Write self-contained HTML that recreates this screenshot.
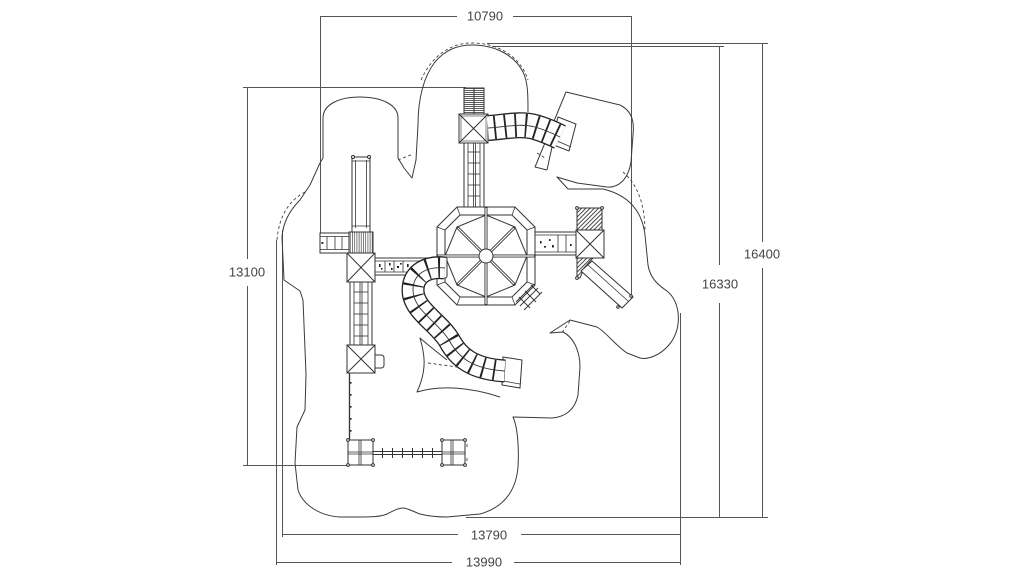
<!DOCTYPE html>
<html>
<head>
<meta charset="utf-8">
<style>
html,body{margin:0;padding:0;background:#fff;}
svg{display:block;}
text{font-family:"Liberation Sans",sans-serif;font-size:13px;fill:#444;}
</style>
</head>
<body>
<svg width="1024" height="576" viewBox="0 0 1024 576" xmlns="http://www.w3.org/2000/svg">
<defs>
  <pattern id="hatch" patternUnits="userSpaceOnUse" width="3" height="3" patternTransform="rotate(45)">
    <line x1="0.5" y1="0" x2="0.5" y2="3" stroke="#333" stroke-width="0.9"/>
  </pattern>
  <pattern id="hl" patternUnits="userSpaceOnUse" width="4" height="2">
    <line x1="0" y1="0.5" x2="4" y2="0.5" stroke="#333" stroke-width="0.8"/>
  </pattern>
  <pattern id="vl" patternUnits="userSpaceOnUse" width="2.2" height="4">
    <line x1="0.5" y1="0" x2="0.5" y2="4" stroke="#444" stroke-width="0.7"/>
  </pattern>
</defs>
<rect width="1024" height="576" fill="#fff"/>

<!-- ============ DIMENSION LINES ============ -->
<g stroke="#555" stroke-width="1" fill="none">
  <line x1="320" y1="16.5" x2="457" y2="16.5"/>
  <line x1="513" y1="16.5" x2="631" y2="16.5"/>
  <line x1="320.5" y1="16" x2="320.5" y2="233"/>
  <line x1="631.5" y1="16" x2="631.5" y2="295"/>
  <line x1="487" y1="43.5" x2="768" y2="43.5"/>
  <line x1="762.5" y1="43" x2="762.5" y2="242"/>
  <line x1="762.5" y1="268" x2="762.5" y2="517"/>
  <line x1="492" y1="46.5" x2="724" y2="46.5"/>
  <line x1="719.5" y1="46" x2="719.5" y2="265"/>
  <line x1="719.5" y1="303" x2="719.5" y2="517"/>
  <line x1="466" y1="517.5" x2="768" y2="517.5"/>
  <line x1="243" y1="87.5" x2="466" y2="87.5"/>
  <line x1="247.5" y1="87" x2="247.5" y2="259"/>
  <line x1="247.5" y1="286" x2="247.5" y2="465"/>
  <line x1="243" y1="465.5" x2="349" y2="465.5"/>
  <line x1="282" y1="534.5" x2="458" y2="534.5"/>
  <line x1="521" y1="534.5" x2="680" y2="534.5"/>
  <line x1="282.5" y1="230" x2="282.5" y2="537"/>
  <line x1="680.5" y1="313" x2="680.5" y2="565"/>
  <line x1="276" y1="562.5" x2="452" y2="562.5"/>
  <line x1="514" y1="562.5" x2="680" y2="562.5"/>
  <line x1="276.5" y1="240" x2="276.5" y2="565"/>
</g>
<g text-anchor="middle" dominant-baseline="central">
  <text x="485" y="16">10790</text>
  <text x="762" y="254">16400</text>
  <text x="720" y="284">16330</text>
  <text x="247" y="272">13100</text>
  <text x="489" y="535">13790</text>
  <text x="484" y="562">13990</text>
</g>

<!-- ============ OUTLINE ============ -->
<g stroke="#3a3a3a" stroke-width="1" fill="none" stroke-linejoin="round">
  <path d="M 323,158 L 323,118 C 323,104 340,97 360,97 C 380,97 398,104 398,118 L 398,158 L 404,168 L 412,178 L 416,160 L 418,125 C 418,98 424,76 435,62 C 445,50 458,45 472,45 C 496,45 515,56 523,72 C 528,82 528,95 528,112"/>
  <path d="M 547,170 L 535,167 L 566,92 L 620,105 C 634,112 634,125 633,135 L 631,162 C 628,180 618,188 607,187 L 577,183 L 557,177 L 568,189 L 603,189 C 628,195 642,210 645,235 L 648,265 C 650,278 658,285 667,291 C 681,302 683,330 668,346 C 660,355 648,360 640,358 L 627,353 C 615,345 606,332 597,327 L 570,320 L 550,333 L 563,332 C 573,337 580,350 580,367 L 578,395 C 575,410 565,417 552,418 L 513,417 C 518,428 519,450 518,467 C 516,490 505,507 480,514 L 447,517 C 435,517 428,516 420,514 C 412,511 407,508 403,508 C 398,508 393,511 387,514 C 380,517 370,517 360,517 L 340,517 C 320,516 303,505 298,490 L 295,463 L 297,427 L 305,410 L 306,374 L 303,300 L 300,291 L 284,280 L 282,237 C 283,222 290,210 300,200 L 310,185 L 320,163 L 323,158"/>
  <path d="M 547,170 L 552,147"/>
  <path d="M 447,360 C 437,352 428,345 420,338 C 424,352 428,368 417,392 C 440,385 470,387 500,397"/>
</g>
<g stroke="#444" stroke-width="0.9" fill="none" stroke-dasharray="3 2.5">
  <path d="M 421,80 C 432,56 450,43 472,43 C 496,43 520,55 528,80"/>
  <path d="M 305,192 C 290,200 279,215 277,240"/>
  <path d="M 623,172 C 638,185 645,205 645,232"/>
  <path d="M 398,160 L 413,154"/>
  <path d="M 570,321 L 561,334"/>
  <path d="M 428,363 L 457,367"/>
  <path d="M 537,153 L 545,158"/>
</g>

<!-- ============ STRUCTURES ============ -->
<g stroke="#333" stroke-width="1" fill="#fff">
  <rect x="464" y="88" width="20" height="26" fill="url(#hl)"/>
  <line x1="474" y1="88" x2="474" y2="114"/>
  <rect x="459" y="114" width="29" height="29"/>
  <rect x="461" y="116" width="25" height="25" fill="none" stroke-width="0.6"/>
  <line x1="459" y1="114" x2="488" y2="143"/>
  <line x1="488" y1="114" x2="459" y2="143"/>
  <rect x="464" y="143" width="20" height="64"/>
  <g stroke-width="0.8">
    <line x1="468" y1="143" x2="468" y2="207"/>
    <line x1="473.5" y1="143" x2="473.5" y2="207"/>
    <line x1="475.5" y1="143" x2="475.5" y2="207"/>
    <line x1="480" y1="143" x2="480" y2="207"/>
    <line x1="468" y1="152" x2="480" y2="152"/>
    <line x1="468" y1="163" x2="480" y2="163"/>
    <line x1="468" y1="174" x2="480" y2="174"/>
    <line x1="468" y1="185" x2="480" y2="185"/>
    <line x1="468" y1="196" x2="480" y2="196"/>
  </g>

  <rect x="352" y="157" width="18" height="75"/>
  <g stroke-width="0.8">
    <line x1="355.5" y1="160" x2="355.5" y2="228"/>
    <line x1="366.5" y1="160" x2="366.5" y2="228"/>
    <line x1="352" y1="161" x2="370" y2="161"/>
    <line x1="352" y1="226" x2="370" y2="226"/>
  </g>
  <circle cx="353" cy="157" r="1.5"/>
  <circle cx="369" cy="157" r="1.5"/>
  <rect x="349" y="232" width="24" height="21" fill="url(#vl)"/>
  <rect x="349" y="232" width="24" height="21" fill="none"/>

  <rect x="320" y="233" width="29" height="20"/>
  <g stroke-width="0.8">
    <line x1="320" y1="236.5" x2="349" y2="236.5"/>
    <line x1="320" y1="249.5" x2="349" y2="249.5"/>
    <line x1="327" y1="236.5" x2="327" y2="249.5"/>
    <line x1="335" y1="236.5" x2="335" y2="249.5"/>
    <line x1="342" y1="236.5" x2="342" y2="249.5"/>
  </g>
  <rect x="321.5" y="242" width="1.8" height="2" fill="#222" stroke="none"/>

  <rect x="347" y="253" width="28" height="29"/>
  <line x1="347" y1="253" x2="375" y2="282"/>
  <line x1="375" y1="253" x2="347" y2="282"/>

  <rect x="375" y="258" width="62" height="17"/>
  <g stroke-width="0.8">
    <line x1="375" y1="261" x2="437" y2="261"/>
    <line x1="375" y1="272" x2="437" y2="272"/>
    <line x1="385" y1="261" x2="385" y2="272"/>
    <line x1="394" y1="261" x2="394" y2="272"/>
    <line x1="403" y1="261" x2="403" y2="272"/>
  </g>
  <g fill="#222" stroke="none">
    <rect x="379" y="264" width="1.6" height="3"/>
    <rect x="381" y="268" width="1.6" height="1.6"/>
    <rect x="389" y="263" width="1.6" height="2.5"/>
    <rect x="391" y="268" width="1.6" height="2"/>
    <rect x="397" y="266" width="2" height="2"/>
    <rect x="400" y="263" width="1.6" height="1.6"/>
    <rect x="407" y="264" width="1.6" height="3"/>
  </g>

  <rect x="350" y="282" width="22" height="63"/>
  <g stroke-width="0.8">
    <line x1="354" y1="282" x2="354" y2="345"/>
    <line x1="360" y1="282" x2="360" y2="345"/>
    <line x1="362" y1="282" x2="362" y2="345"/>
    <line x1="368" y1="282" x2="368" y2="345"/>
    <line x1="354" y1="292" x2="368" y2="292"/>
    <line x1="354" y1="303" x2="368" y2="303"/>
    <line x1="354" y1="314" x2="368" y2="314"/>
    <line x1="354" y1="325" x2="368" y2="325"/>
    <line x1="354" y1="336" x2="368" y2="336"/>
  </g>

  <rect x="347" y="345" width="28" height="28"/>
  <line x1="347" y1="345" x2="375" y2="373"/>
  <line x1="375" y1="345" x2="347" y2="373"/>
  <path d="M 375,355 L 381,355 Q 384,355 384,358 L 384,365 Q 384,368 381,368 L 375,368 Z"/>

  <line x1="349.5" y1="373" x2="349.5" y2="440" stroke-width="1.3"/>
  <g fill="#222" stroke="none">
    <rect x="350" y="382" width="1.6" height="1.6"/>
    <rect x="350" y="394" width="1.6" height="1.6"/>
    <rect x="350" y="406" width="1.6" height="1.6"/>
    <rect x="350" y="418" width="1.6" height="1.6"/>
    <rect x="350" y="430" width="1.6" height="1.6"/>
  </g>

  <rect x="348" y="440" width="25" height="25"/>
  <g stroke-width="0.8">
    <line x1="359" y1="440" x2="359" y2="465"/>
    <line x1="361" y1="440" x2="361" y2="465"/>
    <line x1="348" y1="452" x2="373" y2="452"/>
    <line x1="348" y1="454" x2="373" y2="454"/>
  </g>
  <circle cx="348" cy="440" r="1.4"/><circle cx="373" cy="440" r="1.4"/>
  <circle cx="348" cy="465" r="1.4"/><circle cx="373" cy="465" r="1.4"/>

  <rect x="373" y="451.5" width="69" height="3"/>
  <g stroke-width="1">
    <line x1="382.5" y1="448" x2="382.5" y2="458"/>
    <line x1="392.5" y1="448" x2="392.5" y2="458"/>
    <line x1="402.5" y1="448" x2="402.5" y2="458"/>
    <line x1="412.5" y1="448" x2="412.5" y2="458"/>
    <line x1="422.5" y1="448" x2="422.5" y2="458"/>
    <line x1="432.5" y1="448" x2="432.5" y2="458"/>
  </g>

  <rect x="442" y="440" width="23" height="25"/>
  <g stroke-width="0.8">
    <line x1="451" y1="440" x2="451" y2="465"/>
    <line x1="453" y1="440" x2="453" y2="465"/>
    <line x1="442" y1="452" x2="465" y2="452"/>
    <line x1="442" y1="454" x2="465" y2="454"/>
    <line x1="467" y1="444" x2="467" y2="447"/>
    <line x1="467" y1="458" x2="467" y2="461"/>
  </g>
  <circle cx="442" cy="440" r="1.4"/><circle cx="465" cy="440" r="1.4"/>
  <circle cx="442" cy="465" r="1.4"/><circle cx="465" cy="465" r="1.4"/>

  <polygon points="457,207 515,207 535,227 535,285 515,305 457,305 437,285 437,227"/>
  <polygon points="460,215 512,215 527,230 527,282 512,297 460,297 445,282 445,230" fill="none"/>
  <g stroke-width="0.8">
    <line x1="457" y1="207" x2="460" y2="215"/>
    <line x1="515" y1="207" x2="512" y2="215"/>
    <line x1="535" y1="227" x2="527" y2="230"/>
    <line x1="535" y1="285" x2="527" y2="282"/>
    <line x1="515" y1="305" x2="512" y2="297"/>
    <line x1="457" y1="305" x2="460" y2="297"/>
    <line x1="437" y1="285" x2="445" y2="282"/>
    <line x1="437" y1="227" x2="445" y2="230"/>
  </g>
  <polygon points="486,215 515,227 527,256 515,285 486,297 457,285 445,256 457,227" fill="none"/>
  <g stroke="#333" stroke-width="3">
    <line x1="486" y1="256" x2="486" y2="207"/>
    <line x1="486" y1="256" x2="486" y2="305"/>
    <line x1="486" y1="256" x2="437" y2="256"/>
    <line x1="486" y1="256" x2="535" y2="256"/>
    <line x1="486" y1="256" x2="515" y2="227"/>
    <line x1="486" y1="256" x2="515" y2="285"/>
    <line x1="486" y1="256" x2="457" y2="285"/>
    <line x1="486" y1="256" x2="457" y2="227"/>
  </g>
  <g stroke="#fff" stroke-width="1.2">
    <line x1="486" y1="256" x2="486" y2="208"/>
    <line x1="486" y1="256" x2="486" y2="304"/>
    <line x1="486" y1="256" x2="438" y2="256"/>
    <line x1="486" y1="256" x2="534" y2="256"/>
    <line x1="486" y1="256" x2="514" y2="228"/>
    <line x1="486" y1="256" x2="514" y2="284"/>
    <line x1="486" y1="256" x2="458" y2="284"/>
    <line x1="486" y1="256" x2="458" y2="228"/>
  </g>
  <circle cx="486" cy="256" r="7"/>

  <g stroke-width="0.9" fill="none">
    <line x1="520" y1="306" x2="538" y2="288"/>
    <line x1="524" y1="310" x2="542" y2="292"/>
    <line x1="516" y1="302" x2="534" y2="284"/>
    <line x1="519" y1="297" x2="530" y2="308"/>
    <line x1="525" y1="291" x2="536" y2="302"/>
    <line x1="531" y1="285" x2="540" y2="294"/>
  </g>

  <rect x="535" y="232" width="41" height="23"/>
  <g stroke-width="0.8">
    <line x1="535" y1="235" x2="576" y2="235"/>
    <line x1="535" y1="252" x2="576" y2="252"/>
    <line x1="558" y1="235" x2="558" y2="252"/>
    <line x1="566" y1="235" x2="566" y2="252"/>
  </g>
  <g fill="#222" stroke="none">
    <rect x="540" y="241" width="1.6" height="2.5"/>
    <rect x="544" y="246" width="2" height="1.6"/>
    <rect x="549" y="239" width="1.6" height="2"/>
    <rect x="552" y="245" width="1.8" height="2.5"/>
    <rect x="570" y="244" width="1.6" height="2"/>
  </g>

  <rect x="577" y="208" width="25" height="22" fill="url(#hatch)"/>
  <rect x="577" y="208" width="25" height="22" fill="none"/>
  <circle cx="577" cy="208" r="1.4"/><circle cx="602" cy="208" r="1.4"/>
  <rect x="576" y="230" width="28" height="28"/>
  <line x1="576" y1="230" x2="604" y2="258"/>
  <line x1="604" y1="230" x2="576" y2="258"/>
  <polygon points="577,258 593,258 584,268 580,278 577,278" fill="url(#hatch)"/>
  <circle cx="577" cy="278" r="1.4"/>
  <polygon points="592,261 633,297 622,308 581,271"/>
  <line x1="588" y1="265" x2="628" y2="301" stroke-width="0.8"/>
  <circle cx="631" cy="296" r="1.3"/>
  <circle cx="618" cy="307" r="1.3"/>

  <polygon points="558,117 576,124 569,151 551,144"/>
  <line x1="555" y1="140" x2="571" y2="147" stroke-width="0.8"/>

  <polygon points="503,357 522,360 520,388 502,385"/>
  <line x1="503" y1="381" x2="520" y2="384" stroke-width="0.8"/>
  <rect x="433" y="257" width="14" height="21" rx="2"/>
</g>

<!-- ============ TUBE SLIDES ============ -->
<g fill="none" stroke-linecap="butt">
  <path d="M 488,128 C 505,127 520,123 535,127 C 545,130 552,133 560,137" stroke="#222" stroke-width="26"/>
  <path d="M 488,128 C 505,127 520,123 535,127 C 545,130 552,133 560,137" stroke="#fff" stroke-width="23.4"/>
  <path d="M 488,128 C 505,127 520,123 535,127 C 545,130 552,133 560,137" stroke="#222" stroke-width="23.4" stroke-dasharray="1.8 8.6" stroke-dashoffset="-6"/>
  <path d="M 488,128 C 505,127 520,123 535,127 C 545,130 552,133 560,137" stroke="#333" stroke-width="0.9"/>
  <path d="M 445,268 C 428,266 413,273 413,290 C 413,310 438,322 449,340 C 458,357 472,369 505,371" stroke="#222" stroke-width="23"/>
  <path d="M 445,268 C 428,266 413,273 413,290 C 413,310 438,322 449,340 C 458,357 472,369 505,371" stroke="#fff" stroke-width="20.4"/>
  <path d="M 445,268 C 428,266 413,273 413,290 C 413,310 438,322 449,340 C 458,357 472,369 505,371" stroke="#222" stroke-width="20.4" stroke-dasharray="1.8 9.5" stroke-dashoffset="-5"/>
  <path d="M 445,268 C 428,266 413,273 413,290 C 413,310 438,322 449,340 C 458,357 472,369 505,371" stroke="#333" stroke-width="0.9"/>
</g>
</svg>
</body>
</html>
